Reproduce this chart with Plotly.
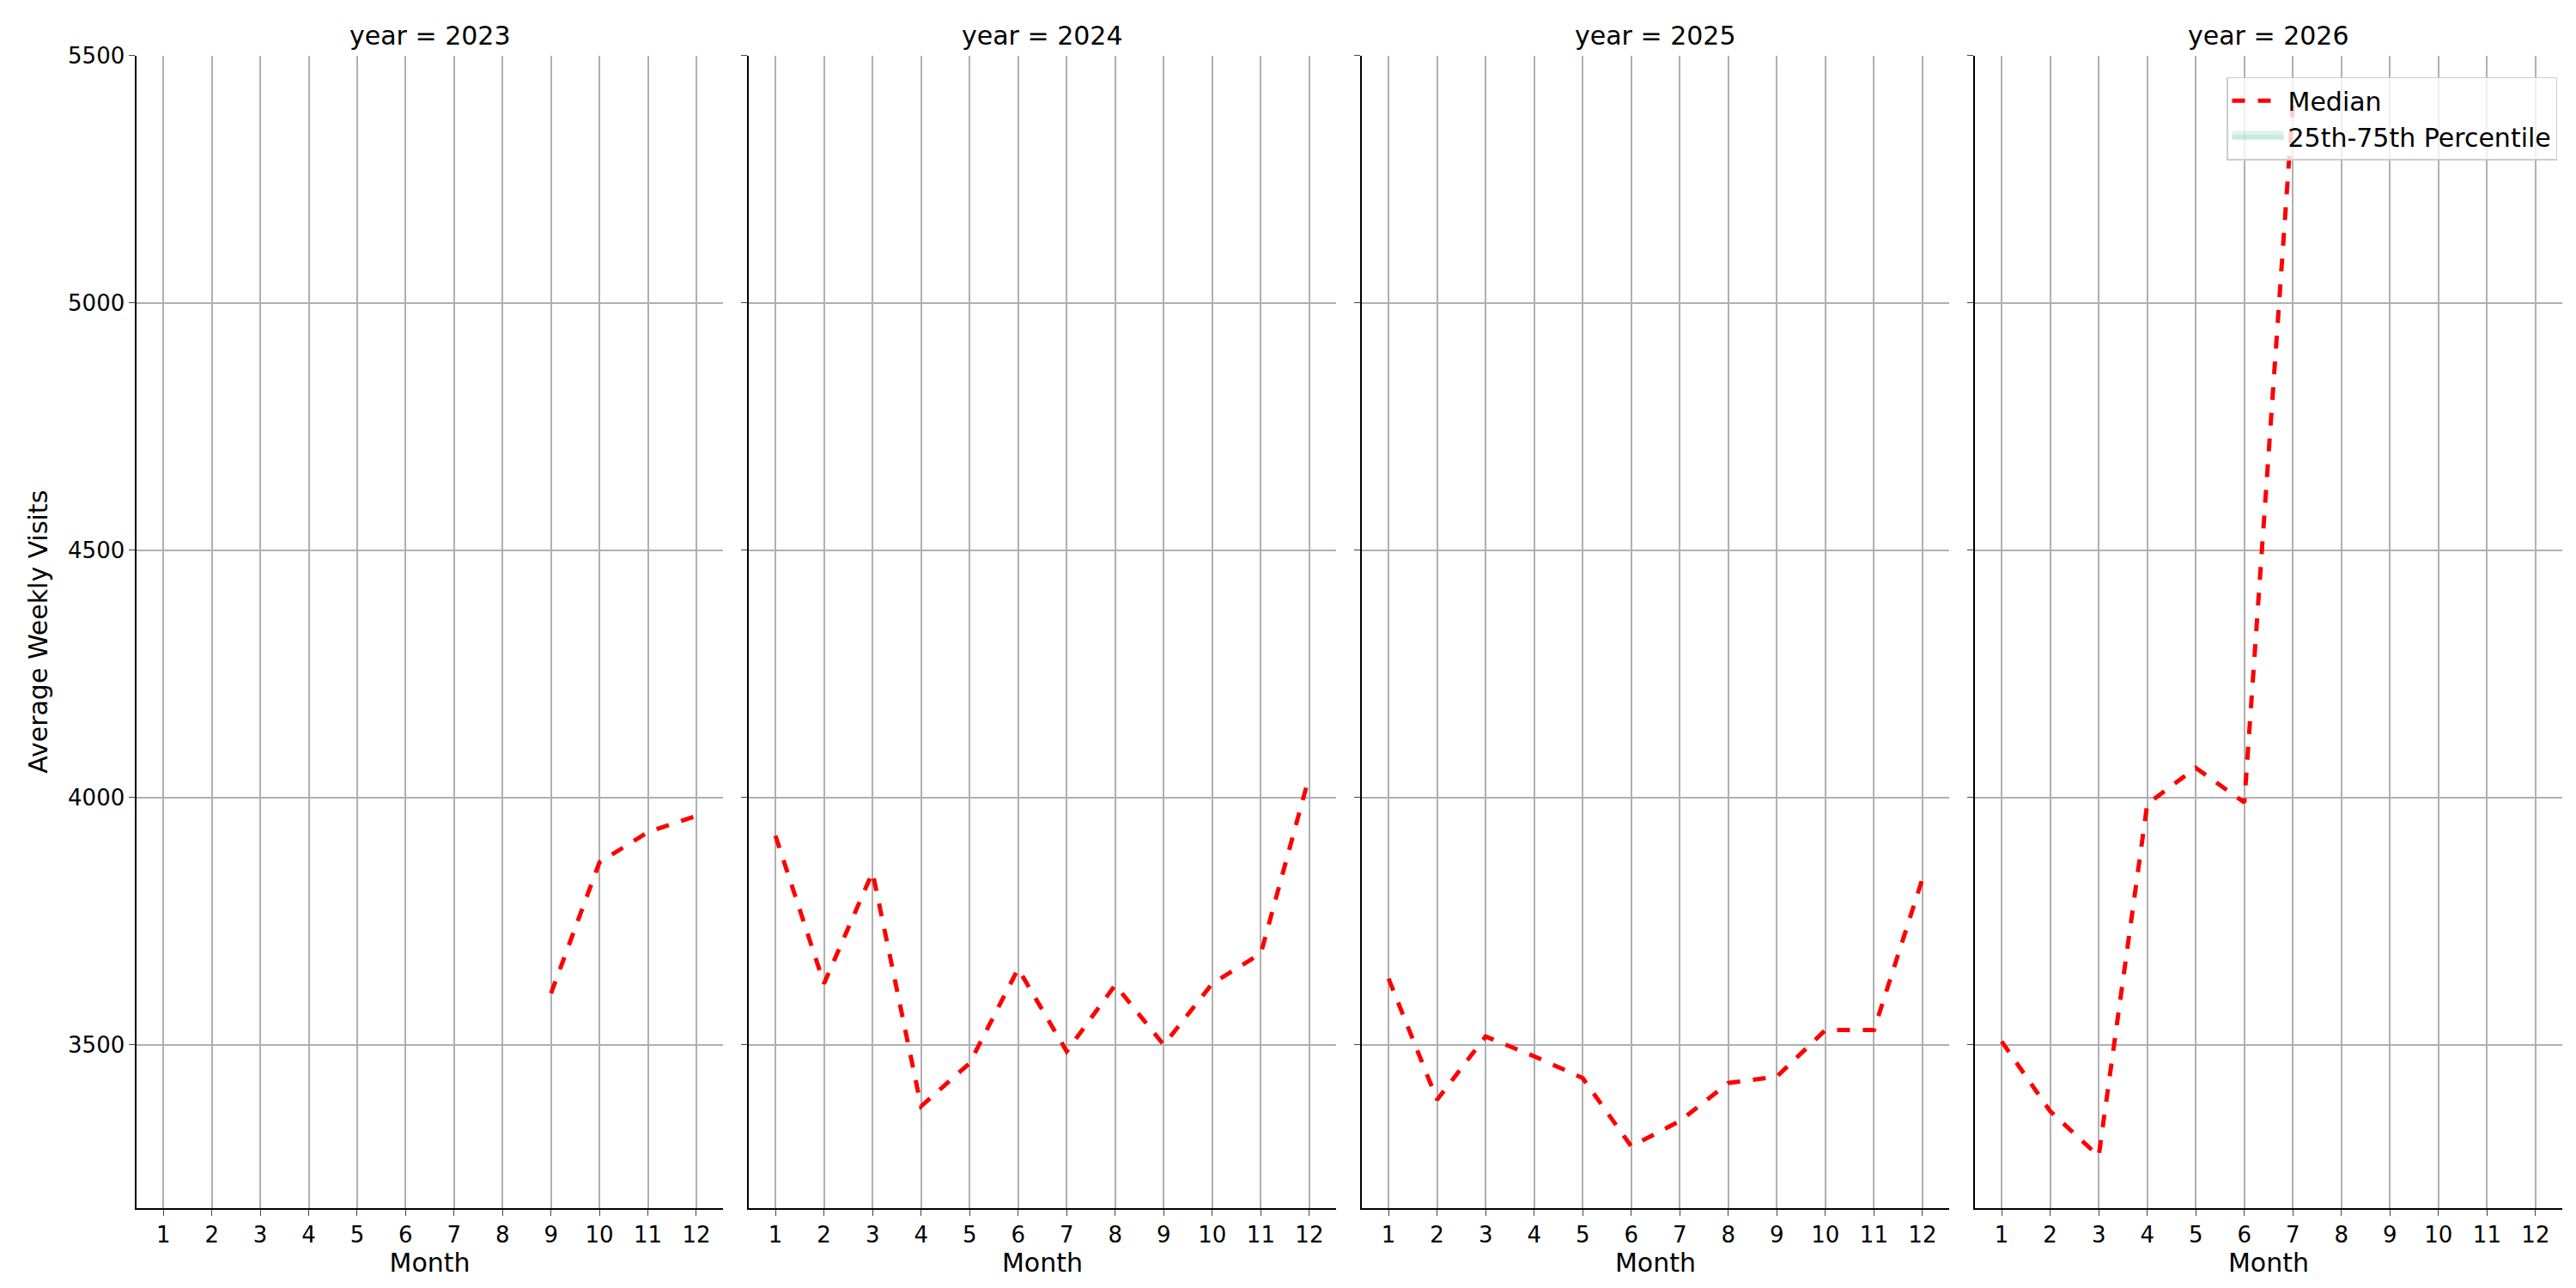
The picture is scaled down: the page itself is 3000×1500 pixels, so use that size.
import plotly.graph_objects as go
from plotly.subplots import make_subplots

years = [2023, 2024, 2025, 2026]
months_by_year = {
    2023: [9, 10, 11, 12],
    2024: list(range(1, 13)),
    2025: list(range(1, 13)),
    2026: [1, 2, 3, 4, 5, 6, 7],
}
median_by_year = {
    2023: [3604, 3869, 3930, 3963],
    2024: [3923, 3624, 3849, 3376, 3463, 3654, 3487, 3621, 3500, 3624, 3685, 4044],
    2025: [3634, 3389, 3517, 3477, 3433, 3295, 3346, 3423, 3436, 3530, 3530, 3836],
    2026: [3507, 3366, 3275, 3987, 4060, 3990, 5399],
}
month_ticks = list(range(1, 13))

fig = make_subplots(rows=1, cols=4, shared_yaxes=True, horizontal_spacing=0.01,
                    subplot_titles=['year = {}'.format(y) for y in years])

for i, y in enumerate(years):
    fig.add_trace(go.Scatter(x=months_by_year[y], y=median_by_year[y], mode='lines',
                             name='Median', showlegend=(i == 3),
                             line={'color': 'red', 'width': 5, 'dash': 'dash'}),
                  row=1, col=i + 1)

# percentile band is empty in the source, legend entry only
fig.add_trace(go.Scatter(x=[None], y=[None], mode='lines', name='25th-75th Percentile',
                         fill='toself', fillcolor='rgba(102,194,165,0.2)',
                         line={'color': 'rgba(102,194,165,0.2)', 'width': 20}),
              row=1, col=4)

domains = [(0.0504, 0.278), (0.288, 0.516), (0.526, 0.754), (0.764, 0.992)]
ytop = 0.972
for i, d in enumerate(domains):
    fig.update_xaxes(domain=d, range=[0.45, 12.55], tickvals=month_ticks,
                     title_text='Month', row=1, col=i + 1)

fig.update_xaxes(showgrid=True, gridcolor='#b0b0b0', gridwidth=1.5, showline=True,
                 linecolor='black', linewidth=1.5, ticks='outside', ticklen=7,
                 tickfont={'size': 26}, title_font={'size': 30}, zeroline=False,
                 title_standoff=6)
fig.update_yaxes(domain=[0.068, ytop], range=[3170, 5500],
                 tickvals=[3500, 4000, 4500, 5000, 5500],
                 showgrid=True, gridcolor='#b0b0b0', gridwidth=1.5, showline=True,
                 linecolor='black', linewidth=1.5, ticks='outside', ticklen=7,
                 tickfont={'size': 26}, zeroline=False)
fig.update_yaxes(title_text='Average Weekly Visits', title_font={'size': 30}, row=1, col=1)

for a, d in zip(fig.layout.annotations, domains):
    a.font = {'size': 30, 'color': 'black'}
    a.x = (d[0] + d[1]) / 2
    a.y = ytop
    a.yanchor = 'bottom'
    a.yshift = 4

fig.update_layout(width=3000, height=1500, plot_bgcolor='white', paper_bgcolor='white',
                  font={'family': 'DejaVu Sans', 'color': 'black'},
                  margin={'l': 0, 'r': 0, 't': 0, 'b': 0},
                  legend={'x': 0.99, 'y': 0.955, 'xanchor': 'right', 'yanchor': 'top',
                          'bordercolor': '#cccccc', 'borderwidth': 1.5, 'itemwidth': 60,
                          'bgcolor': 'rgba(255,255,255,0.8)', 'font': {'size': 30}})

fig.write_html("out.html")
